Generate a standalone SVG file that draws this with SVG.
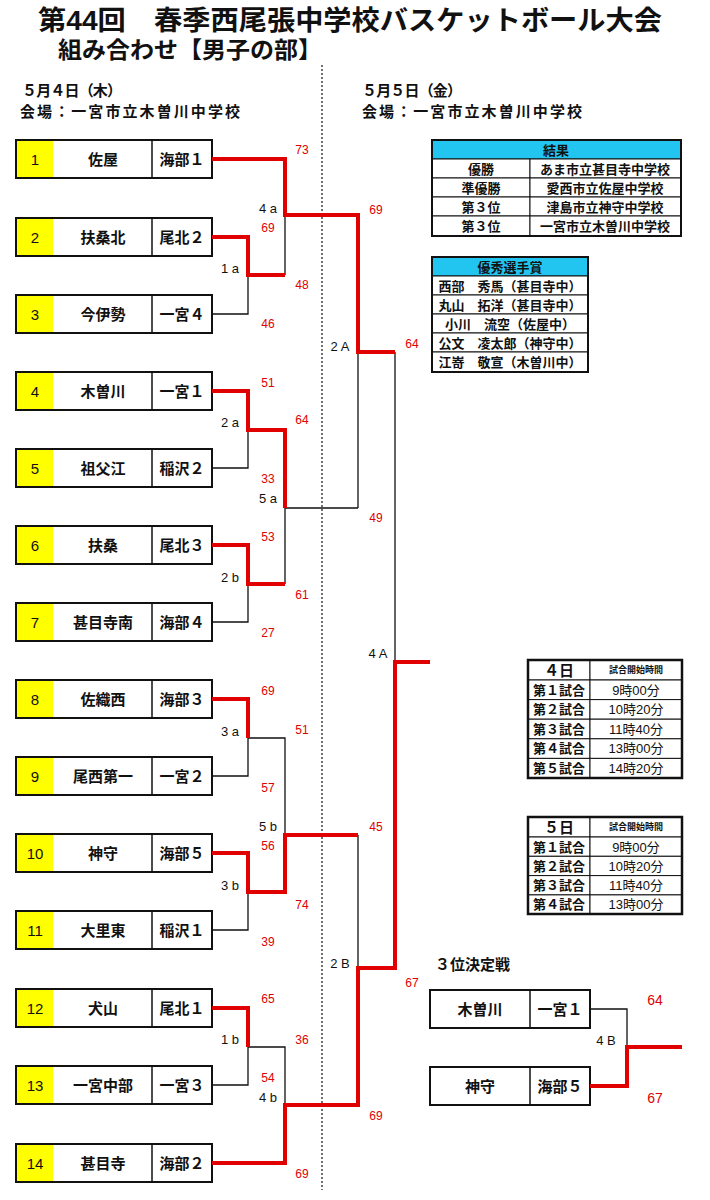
<svg xmlns="http://www.w3.org/2000/svg" width="710" height="1200" viewBox="0 0 710 1200">
<style>
text{font-family:"Liberation Sans","Noto Sans CJK JP",sans-serif;font-weight:bold;fill:#111}
.t{font-size:15px;text-anchor:middle;dominant-baseline:central}
.s{font-size:12px;fill:#e00000;font-weight:normal;text-anchor:middle;dominant-baseline:central}
.l{font-size:13px;font-weight:normal;text-anchor:middle;dominant-baseline:central}
.c{font-size:13px;text-anchor:middle;dominant-baseline:central}
.box{fill:#fff;stroke:#111;stroke-width:2}
.y{fill:#ffff00}
.cell{fill:#fff;stroke:#111;stroke-width:1}
.hd{fill:#22c4f0;stroke:#111;stroke-width:1}
.k{fill:none;stroke:#111;stroke-width:1.3}
.r{fill:none;stroke:#e00000;stroke-width:4}
</style>
<text x="38" y="30" style="font-size:27px" textLength="624" lengthAdjust="spacingAndGlyphs">第44回　春季西尾張中学校バスケットボール大会</text>
<text x="58" y="58" style="font-size:23px" textLength="264" lengthAdjust="spacingAndGlyphs">組み合わせ【男子の部】</text>
<text x="22" y="96" style="font-size:15px" textLength="100">５月４日（木）</text>
<text x="20" y="117" style="font-size:15px" textLength="220">会場：一宮市立木曽川中学校</text>
<text x="362" y="96" style="font-size:15px" textLength="100">５月５日（金）</text>
<text x="362" y="117" style="font-size:15px" textLength="220">会場：一宮市立木曽川中学校</text>
<line x1="322" y1="65" x2="322" y2="1190" stroke="#111" stroke-width="1.2" stroke-dasharray="2,2"/>

<g id="teams">
<g id="t1"><rect class="box" x="16" y="140" width="196" height="38"/><rect class="y" x="17" y="141" width="36" height="36"/><line x1="152" y1="140" x2="152" y2="178" stroke="#111" stroke-width="1.5"/><text class="t" x="35" y="159" style="font-weight:normal">1</text><text class="t" x="103" y="159">佐屋</text><text class="t" x="182" y="159">海部１</text></g>
<g id="t2"><rect class="box" x="16" y="218" width="196" height="38"/><rect class="y" x="17" y="219" width="36" height="36"/><line x1="152" y1="218" x2="152" y2="256" stroke="#111" stroke-width="1.5"/><text class="t" x="35" y="237" style="font-weight:normal">2</text><text class="t" x="103" y="237">扶桑北</text><text class="t" x="182" y="237">尾北２</text></g>
<g id="t3"><rect class="box" x="16" y="295" width="196" height="38"/><rect class="y" x="17" y="296" width="36" height="36"/><line x1="152" y1="295" x2="152" y2="333" stroke="#111" stroke-width="1.5"/><text class="t" x="35" y="314" style="font-weight:normal">3</text><text class="t" x="103" y="314">今伊勢</text><text class="t" x="182" y="314">一宮４</text></g>
<g id="t4"><rect class="box" x="16" y="372" width="196" height="38"/><rect class="y" x="17" y="373" width="36" height="36"/><line x1="152" y1="372" x2="152" y2="410" stroke="#111" stroke-width="1.5"/><text class="t" x="35" y="391" style="font-weight:normal">4</text><text class="t" x="103" y="391">木曽川</text><text class="t" x="182" y="391">一宮１</text></g>
<g id="t5"><rect class="box" x="16" y="449" width="196" height="38"/><rect class="y" x="17" y="450" width="36" height="36"/><line x1="152" y1="449" x2="152" y2="487" stroke="#111" stroke-width="1.5"/><text class="t" x="35" y="468" style="font-weight:normal">5</text><text class="t" x="103" y="468">祖父江</text><text class="t" x="182" y="468">稲沢２</text></g>
<g id="t6"><rect class="box" x="16" y="526" width="196" height="38"/><rect class="y" x="17" y="527" width="36" height="36"/><line x1="152" y1="526" x2="152" y2="564" stroke="#111" stroke-width="1.5"/><text class="t" x="35" y="545" style="font-weight:normal">6</text><text class="t" x="103" y="545">扶桑</text><text class="t" x="182" y="545">尾北３</text></g>
<g id="t7"><rect class="box" x="16" y="603" width="196" height="38"/><rect class="y" x="17" y="604" width="36" height="36"/><line x1="152" y1="603" x2="152" y2="641" stroke="#111" stroke-width="1.5"/><text class="t" x="35" y="622" style="font-weight:normal">7</text><text class="t" x="103" y="622">甚目寺南</text><text class="t" x="182" y="622">海部４</text></g>
<g id="t8"><rect class="box" x="16" y="680" width="196" height="38"/><rect class="y" x="17" y="681" width="36" height="36"/><line x1="152" y1="680" x2="152" y2="718" stroke="#111" stroke-width="1.5"/><text class="t" x="35" y="699" style="font-weight:normal">8</text><text class="t" x="103" y="699">佐織西</text><text class="t" x="182" y="699">海部３</text></g>
<g id="t9"><rect class="box" x="16" y="757" width="196" height="38"/><rect class="y" x="17" y="758" width="36" height="36"/><line x1="152" y1="757" x2="152" y2="795" stroke="#111" stroke-width="1.5"/><text class="t" x="35" y="776" style="font-weight:normal">9</text><text class="t" x="103" y="776">尾西第一</text><text class="t" x="182" y="776">一宮２</text></g>
<g id="t10"><rect class="box" x="16" y="834" width="196" height="38"/><rect class="y" x="17" y="835" width="36" height="36"/><line x1="152" y1="834" x2="152" y2="872" stroke="#111" stroke-width="1.5"/><text class="t" x="35" y="853" style="font-weight:normal">10</text><text class="t" x="103" y="853">神守</text><text class="t" x="182" y="853">海部５</text></g>
<g id="t11"><rect class="box" x="16" y="911" width="196" height="38"/><rect class="y" x="17" y="912" width="36" height="36"/><line x1="152" y1="911" x2="152" y2="949" stroke="#111" stroke-width="1.5"/><text class="t" x="35" y="930" style="font-weight:normal">11</text><text class="t" x="103" y="930">大里東</text><text class="t" x="182" y="930">稲沢１</text></g>
<g id="t12"><rect class="box" x="16" y="989" width="196" height="38"/><rect class="y" x="17" y="990" width="36" height="36"/><line x1="152" y1="989" x2="152" y2="1027" stroke="#111" stroke-width="1.5"/><text class="t" x="35" y="1008" style="font-weight:normal">12</text><text class="t" x="103" y="1008">犬山</text><text class="t" x="182" y="1008">尾北１</text></g>
<g id="t13"><rect class="box" x="16" y="1066" width="196" height="38"/><rect class="y" x="17" y="1067" width="36" height="36"/><line x1="152" y1="1066" x2="152" y2="1104" stroke="#111" stroke-width="1.5"/><text class="t" x="35" y="1085" style="font-weight:normal">13</text><text class="t" x="103" y="1085">一宮中部</text><text class="t" x="182" y="1085">一宮３</text></g>
<g id="t14"><rect class="box" x="16" y="1144" width="196" height="38"/><rect class="y" x="17" y="1145" width="36" height="36"/><line x1="152" y1="1144" x2="152" y2="1182" stroke="#111" stroke-width="1.5"/><text class="t" x="35" y="1163" style="font-weight:normal">14</text><text class="t" x="103" y="1163">甚目寺</text><text class="t" x="182" y="1163">海部２</text></g>
<g id="p1"><rect class="box" x="430" y="990" width="160" height="38"/><line x1="530" y1="990" x2="530" y2="1028" stroke="#111" stroke-width="1.5"/><text class="t" x="480" y="1009">木曽川</text><text class="t" x="560" y="1009">一宮１</text></g>
<g id="p2"><rect class="box" x="430" y="1067" width="160" height="38"/><line x1="530" y1="1067" x2="530" y2="1105" stroke="#111" stroke-width="1.5"/><text class="t" x="480" y="1086">神守</text><text class="t" x="560" y="1086">海部５</text></g>
</g>

<g id="connectors">
<path class="k" d="M212,314H248V275M285,215V275M212,468H248V430M212,622H248V584M285,508V584M285,508H358M358,352V508M395,352V662M212,776H248V738H285V835M212,930H248V892M358,835V968M212,1085H248V1047H285V1105M590,1009H627V1047"/>
<path class="r" d="M212,159H285V215H358V352H395M212,237H248V275H285M212,391H248V430H285V508M212,545H248V584H285M212,699H248V738M212,853H248V892H285V835H358M212,1008H248V1047M430,662H395V968H358V1105H285V1163H212M590,1086H627V1047H682"/>
</g>

<g id="labels">
<text class="s" x="302" y="150">73</text><text class="s" x="376" y="210">69</text>
<text class="l" x="268" y="208">4 a</text><text class="s" x="268" y="228">69</text>
<text class="l" x="230" y="268">1 a</text><text class="s" x="302" y="285">48</text><text class="s" x="268" y="324">46</text>
<text class="l" x="340" y="346">2 A</text><text class="s" x="412" y="344">64</text>
<text class="s" x="268" y="383">51</text><text class="l" x="230" y="422">2 a</text><text class="s" x="302" y="420">64</text>
<text class="s" x="268" y="479">33</text><text class="l" x="268" y="498">5 a</text><text class="s" x="376" y="518">49</text>
<text class="s" x="268" y="537">53</text><text class="l" x="230" y="577">2 b</text><text class="s" x="302" y="595">61</text><text class="s" x="268" y="633">27</text>
<text class="l" x="378" y="653">4 A</text>
<text class="s" x="268" y="691">69</text><text class="l" x="230" y="731">3 a</text><text class="s" x="302" y="730">51</text><text class="s" x="268" y="788">57</text>
<text class="l" x="268" y="826">5 b</text><text class="s" x="376" y="827">45</text><text class="s" x="268" y="846">56</text>
<text class="l" x="230" y="885">3 b</text><text class="s" x="302" y="905">74</text><text class="s" x="268" y="942">39</text>
<text class="l" x="340" y="963">2 B</text><text class="s" x="412" y="983">67</text>
<text class="s" x="268" y="999">65</text><text class="l" x="230" y="1039">1 b</text><text class="s" x="302" y="1040">36</text>
<text class="s" x="268" y="1078">54</text><text class="l" x="268" y="1097">4 b</text><text class="s" x="376" y="1116">69</text><text class="s" x="302" y="1174">69</text>
<text x="435" y="964" style="font-size:15px;dominant-baseline:central">３位決定戦</text>
<text class="s" x="655" y="1000" style="font-size:14px">64</text><text class="l" x="606" y="1040">4 B</text><text class="s" x="655" y="1098" style="font-size:14px">67</text>
</g>

<g id="results">
<rect class="hd" x="432" y="140" width="249" height="19"/><text class="c" x="556" y="150">結果</text>
<rect class="cell" x="432" y="159" width="98" height="19"/><rect class="cell" x="530" y="159" width="151" height="19"/><text class="c" x="481" y="169">優勝</text><text class="c" x="605" y="169">あま市立甚目寺中学校</text>
<rect class="cell" x="432" y="178" width="98" height="19"/><rect class="cell" x="530" y="178" width="151" height="19"/><text class="c" x="481" y="188">準優勝</text><text class="c" x="605" y="188">愛西市立佐屋中学校</text>
<rect class="cell" x="432" y="197" width="98" height="19"/><rect class="cell" x="530" y="197" width="151" height="19"/><text class="c" x="481" y="207">第３位</text><text class="c" x="605" y="207">津島市立神守中学校</text>
<rect class="cell" x="432" y="216" width="98" height="20"/><rect class="cell" x="530" y="216" width="151" height="20"/><text class="c" x="481" y="226">第３位</text><text class="c" x="605" y="226">一宮市立木曽川中学校</text>
<rect x="432" y="140" width="249" height="96" fill="none" stroke="#111" stroke-width="2"/>
</g>
<g id="mvp">
<rect class="hd" x="432" y="257" width="156" height="19"/><text class="c" x="510" y="267">優秀選手賞</text>
<rect class="cell" x="432" y="276" width="156" height="19"/><text class="c" x="510" y="286">西部　秀馬（甚目寺中）</text>
<rect class="cell" x="432" y="295" width="156" height="19"/><text class="c" x="510" y="305">丸山　拓洋（甚目寺中）</text>
<rect class="cell" x="432" y="314" width="156" height="19"/><text class="c" x="510" y="324">小川　流空（佐屋中）</text>
<rect class="cell" x="432" y="333" width="156" height="19"/><text class="c" x="510" y="343">公文　凌太郎（神守中）</text>
<rect class="cell" x="432" y="352" width="156" height="20"/><text class="c" x="510" y="362">江嵜　敬宣（木曽川中）</text>
<rect x="432" y="257" width="156" height="115" fill="none" stroke="#111" stroke-width="2"/>
</g>
<g id="day4">
<rect class="cell" x="528" y="660" width="62" height="20"/><rect class="cell" x="590" y="660" width="92" height="20"/><text class="c" x="559" y="670" style="font-size:15px">４日</text><text class="c" x="636" y="670" style="font-size:9px">試合開始時間</text>
<rect class="cell" x="528" y="680" width="62" height="19.6"/><rect class="cell" x="590" y="680" width="92" height="19.6"/><text class="c" x="559" y="690">第１試合</text><text class="c" x="636" y="690" style="font-weight:normal">9時00分</text>
<rect class="cell" x="528" y="699.6" width="62" height="19.6"/><rect class="cell" x="590" y="699.6" width="92" height="19.6"/><text class="c" x="559" y="709">第２試合</text><text class="c" x="636" y="709" style="font-weight:normal">10時20分</text>
<rect class="cell" x="528" y="719.2" width="62" height="19.6"/><rect class="cell" x="590" y="719.2" width="92" height="19.6"/><text class="c" x="559" y="729">第３試合</text><text class="c" x="636" y="729" style="font-weight:normal">11時40分</text>
<rect class="cell" x="528" y="738.8" width="62" height="19.6"/><rect class="cell" x="590" y="738.8" width="92" height="19.6"/><text class="c" x="559" y="748">第４試合</text><text class="c" x="636" y="748" style="font-weight:normal">13時00分</text>
<rect class="cell" x="528" y="758.4" width="62" height="19.6"/><rect class="cell" x="590" y="758.4" width="92" height="19.6"/><text class="c" x="559" y="768">第５試合</text><text class="c" x="636" y="768" style="font-weight:normal">14時20分</text>
<rect x="528" y="660" width="154" height="118" fill="none" stroke="#111" stroke-width="2.5"/>
</g>
<g id="day5">
<rect class="cell" x="528" y="817" width="62" height="20"/><rect class="cell" x="590" y="817" width="92" height="20"/><text class="c" x="559" y="827" style="font-size:15px">５日</text><text class="c" x="636" y="827" style="font-size:9px">試合開始時間</text>
<rect class="cell" x="528" y="837" width="62" height="19.3"/><rect class="cell" x="590" y="837" width="92" height="19.3"/><text class="c" x="559" y="847">第１試合</text><text class="c" x="636" y="847" style="font-weight:normal">9時00分</text>
<rect class="cell" x="528" y="856.3" width="62" height="19.3"/><rect class="cell" x="590" y="856.3" width="92" height="19.3"/><text class="c" x="559" y="866">第２試合</text><text class="c" x="636" y="866" style="font-weight:normal">10時20分</text>
<rect class="cell" x="528" y="875.6" width="62" height="19.3"/><rect class="cell" x="590" y="875.6" width="92" height="19.3"/><text class="c" x="559" y="885">第３試合</text><text class="c" x="636" y="885" style="font-weight:normal">11時40分</text>
<rect class="cell" x="528" y="894.9" width="62" height="19.3"/><rect class="cell" x="590" y="894.9" width="92" height="19.3"/><text class="c" x="559" y="904">第４試合</text><text class="c" x="636" y="904" style="font-weight:normal">13時00分</text>
<rect x="528" y="817" width="154" height="97" fill="none" stroke="#111" stroke-width="2.5"/>
</g>
</svg>
